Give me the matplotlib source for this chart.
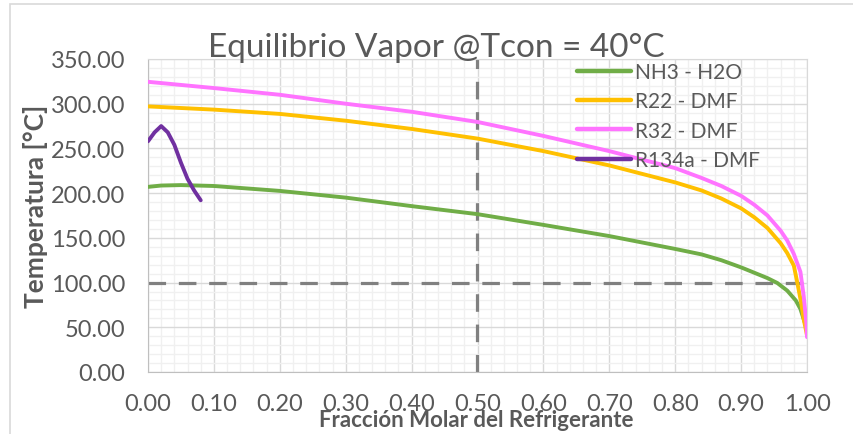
import matplotlib
matplotlib.use('Agg')
import matplotlib.pyplot as plt
from matplotlib.patches import Rectangle
from matplotlib.ticker import MultipleLocator, FormatStrFormatter

plt.rcParams['font.family'] = ['Lato', 'DejaVu Sans']

# ── Data ────────────────────────────────────────────────────────────────────
x_nh3 = [0, 0.02, 0.05, 0.1, 0.2, 0.3, 0.4, 0.5, 0.6, 0.7, 0.8, 0.84, 0.87,
         0.9, 0.92, 0.94, 0.955, 0.97, 0.983, 0.99, 0.995, 1.0]
t_nh3 = [207, 208.5, 209, 208, 202.5, 195, 185.5, 176.5, 164.5, 152, 137.6,
         131.5, 125, 117, 111, 105, 99.5, 91, 80, 70.5, 59, 48]

x_r22 = [0, 0.1, 0.2, 0.3, 0.4, 0.5, 0.6, 0.7, 0.8, 0.84, 0.87, 0.9, 0.92,
         0.94, 0.96, 0.97, 0.98, 0.985, 0.991, 0.995, 1.0]
t_r22 = [297, 293.4, 288.6, 281, 271.8, 261, 247, 231, 212, 203, 194, 183,
         173, 161, 144, 133, 119, 101, 78, 59, 41]

x_r32 = [0, 0.1, 0.2, 0.3, 0.4, 0.5, 0.6, 0.7, 0.8, 0.84, 0.87, 0.9, 0.92,
         0.94, 0.96, 0.97, 0.98, 0.99, 0.995, 0.999, 1.0]
t_r32 = [324.5, 317.5, 310, 300, 291, 279.6, 264, 247, 228, 217, 208, 197,
         187, 175, 158, 147, 132, 112, 85, 55, 39]

x_r134a = [0, 0.01, 0.02, 0.03, 0.04, 0.05, 0.06, 0.07, 0.08]
t_r134a = [258, 268, 275, 268, 254, 234, 216, 203, 192]

series = [
    ('NH3 - H2O', x_nh3, t_nh3, '#70AD47'),
    ('R22 - DMF', x_r22, t_r22, '#FFC000'),
    ('R32 - DMF', x_r32, t_r32, '#FF73FF'),
    ('R134a - DMF', x_r134a, t_r134a, '#7030A0'),
]

x_ref = 0.5     # vertical dashed reference
t_ref = 100     # horizontal dashed reference

txt = '#595959'

# ── Figure ──────────────────────────────────────────────────────────────────
fig = plt.figure(figsize=(8.54, 4.35), dpi=100, facecolor='white')
fig.patches.append(Rectangle((10 / 854, -0.05), 1.0, 1 - 5 / 435 + 0.05,
                             transform=fig.transFigure, fill=False,
                             edgecolor='#D9D9D9', linewidth=1.2))

ax = fig.add_axes([148 / 854, 1 - 373 / 435, 659 / 854, 313 / 435])
ax.set_xlim(0, 1)
ax.set_ylim(0, 350)

ax.xaxis.set_major_locator(MultipleLocator(0.1))
ax.xaxis.set_minor_locator(MultipleLocator(0.02))
ax.yaxis.set_major_locator(MultipleLocator(50))
ax.yaxis.set_minor_locator(MultipleLocator(10))
ax.xaxis.set_major_formatter(FormatStrFormatter('%.2f'))
ax.yaxis.set_major_formatter(FormatStrFormatter('%.2f'))

ax.grid(which='major', color='#D9D9D9', linewidth=1.0, zorder=0)
ax.grid(which='minor', color='#F0F0F0', linewidth=1.0, zorder=0)
ax.set_axisbelow(True)
for side in ['top', 'right']:
    ax.spines[side].set_color('#D9D9D9')
for side in ['left', 'bottom']:
    ax.spines[side].set_color('#BFBFBF')
ax.tick_params(which='both', length=0, colors=txt, labelsize=17)
ax.tick_params(axis='x', pad=15)
ax.tick_params(axis='y', pad=16.5)

# dashed reference lines
ax.axvline(x_ref, color='#808080', linewidth=2.3, dashes=(5.5, 4), zorder=2)
ax.axhline(t_ref, color='#808080', linewidth=2.3, dashes=(5.5, 4), zorder=2)

for label, xs, ts, c in series:
    ax.plot(xs, ts, color=c, linewidth=2.8, label=label, zorder=3,
            solid_capstyle='round', solid_joinstyle='round')

leg = ax.legend(loc='upper left', bbox_to_anchor=(577 / 854, 1 - 63 / 435),
                bbox_transform=fig.transFigure, frameon=False, fontsize=15,
                handlelength=2.6, handletextpad=0.2, labelspacing=0.45,
                borderpad=0, borderaxespad=0)
for t in leg.get_texts():
    t.set_color(txt)
for h in leg.get_lines():
    h.set_linewidth(3.2)

fig.text(436 / 854, 1 - 48 / 435, 'Equilibrio Vapor @Tcon = 40°C',
         ha='center', va='center', fontsize=24, color=txt)

ax.set_xlabel('Fracción Molar del Refrigerante', fontsize=16,
              fontweight='bold', color=txt)
ax.xaxis.set_label_coords(476 / 854, 1 - 410 / 435, transform=fig.transFigure)
ax.set_ylabel('Temperatura [°C]', fontsize=19, fontweight='bold', color=txt)
ax.yaxis.set_label_coords(48 / 854, 1 - 206 / 435, transform=fig.transFigure)

fig.savefig('out.png', dpi=100, facecolor='white')
